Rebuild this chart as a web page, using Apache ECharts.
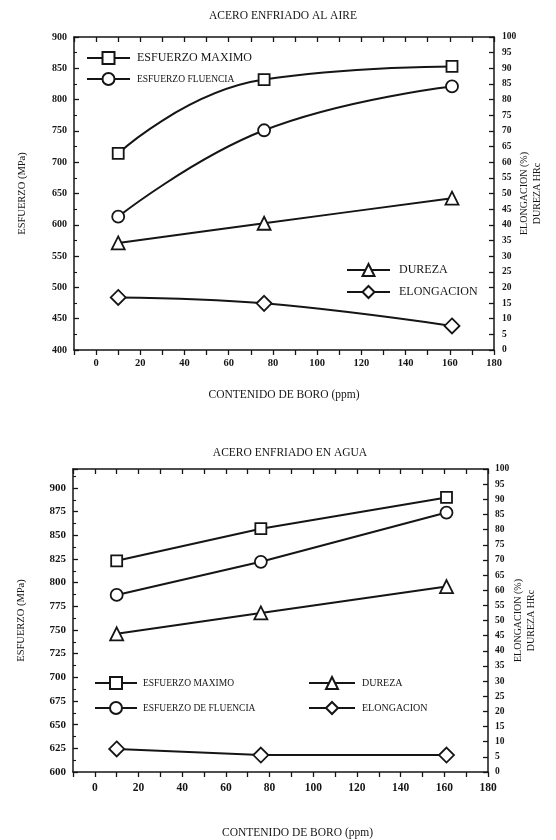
<!DOCTYPE html>
<html>
<head>
<meta charset="utf-8">
<script src="https://cdn.jsdelivr.net/npm/echarts@6/dist/echarts.min.js"></script>
<style>
html,body{margin:0;padding:0;background:#fff;}
#c{width:556px;height:840px;}
</style>
</head>
<body>
<div id="c"></div>
<script>
// ---- data ----
const xBoro = [10, 76, 161];
const xTickLabels = [0, 20, 40, 60, 80, 100, 120, 140, 160, 180];

const aireMax = [714, 832, 853];
const aireFlu = [613, 751, 821];
const aireDur = [34.2, 40.5, 48.5];
const aireElo = [16.8, 14.9, 7.7];

const aguaMax = [823, 857, 890];
const aguaFlu = [787, 822, 874];
const aguaDur = [45.6, 52.5, 61.2];
const aguaElo = [7.6, 5.6, 5.6];

const FONT = '"Liberation Serif", "DejaVu Serif", serif';
const INK = '#151515';

function pts(arr){ return xBoro.map((x,i)=>[x, arr[i]]); }

function xAxisPair(grid){
  const base = {
    gridIndex: grid, type:'value', min:-10, max:180, interval:10,
    splitLine:{show:false},
    axisLine:{show:true, onZero:false, lineStyle:{color:INK, width:1.5}},
  };
  return [
    Object.assign({}, base, {
      position:'bottom',
      axisTick:{show:true, inside:false, length:5, lineStyle:{color:INK, width:1.3}},
      axisLabel:{show:true, margin: grid===0?8:10, color:INK, fontFamily:FONT, fontWeight:'bold',
        fontSize: grid===0?10.5:11.5,
        formatter: v => xTickLabels.includes(v) ? String(v) : ''},
      name:'CONTENIDO DE BORO (ppm)', nameLocation:'middle',
      nameGap: grid===0?39:55,
      nameTextStyle:{color:INK, fontFamily:FONT, fontSize:11.5,
        padding: grid===0?[0,0,0,0]:[0,0,0,34]}
    }),
    Object.assign({}, base, {
      position:'top',
      axisTick:{show:true, inside:true, length:5, lineStyle:{color:INK, width:1.3}},
      axisLabel:{show:false}
    })
  ];
}

function leftY(grid, min, max, interval){
  return {
    gridIndex:grid, type:'value', position:'left', min:min, max:max, interval:interval,
    splitLine:{show:false},
    axisLine:{show:true, onZero:false, lineStyle:{color:INK, width:1.5}},
    axisTick:{show:true, inside:true, length:5, lineStyle:{color:INK, width:1.3}},
    minorTick:{show:true, splitNumber:2, length:3, lineStyle:{color:INK, width:1.1}},
    axisLabel:{color:INK, fontFamily:FONT, fontWeight:'bold', fontSize:grid===0?10:11, margin:7,
      formatter: v => ((v - min) % interval === 0) ? String(v) : ''},
    name:'ESFUERZO (MPa)', nameLocation:'middle', nameRotate:90, nameGap:46,
    nameTextStyle:{color:INK, fontFamily:FONT, fontSize:10.5}
  };
}

function rightY(grid){
  return {
    gridIndex:grid, type:'value', position:'right', min:0, max:100, interval:5,
    splitLine:{show:false},
    axisLine:{show:true, onZero:false, lineStyle:{color:INK, width:1.5}},
    axisTick:{show:true, inside:true, length:5, lineStyle:{color:INK, width:1.3}},
    axisLabel:{color:INK, fontFamily:FONT, fontWeight:'bold', fontSize:9.5, margin:grid===0?8:7},
    name:'ELONGACION (%)\nDUREZA HRc', nameLocation:'middle', nameRotate:90, nameGap:24,
    nameMoveOverlap:false,
    nameTextStyle:{color:INK, fontFamily:FONT, fontSize:10, lineHeight:13}
  };
}

function line(name, data, xi, yi, symbol, size, smooth){
  return {
    type:'line', name:name, data:data, xAxisIndex:xi, yAxisIndex:yi,
    symbol:symbol, symbolSize:size, showSymbol:true, smooth:smooth,
    lineStyle:{color:INK, width:2},
    itemStyle:{color:'#fff', borderColor:INK, borderWidth:1.8},
    emphasis:{disabled:true}, animation:false, z:3
  };
}

const xa0 = xAxisPair(0), xa1 = xAxisPair(1);

const option = {
  backgroundColor:'#fff',
  animation:false,
  title:[
    {text:'ACERO ENFRIADO AL AIRE', left:278, top:5, textAlign:'center',
     textStyle:{color:INK, fontFamily:FONT, fontSize:11.5, fontWeight:'normal'}},
    {text:'ACERO ENFRIADO EN AGUA', left:285, top:442, textAlign:'center',
     textStyle:{color:INK, fontFamily:FONT, fontSize:11.5, fontWeight:'normal'}}
  ],
  grid:[
    {left:74, top:37, width:420, height:313},
    {left:73, top:469, width:415, height:304}
  ],
  xAxis:[xa0[0], xa0[1], xa1[0], xa1[1]],
  yAxis:[leftY(0, 400, 900, 50), rightY(0), leftY(1, 600, 920, 25), rightY(1)],
  legend:[
    {orient:'vertical', left:81, top:46, itemWidth:43, itemHeight:15, itemGap:7,
     selectedMode:false, textStyle:{color:INK, fontFamily:FONT, padding:[0,0,0,2]},
     data:[{name:'ESFUERZO MAXIMO', textStyle:{fontSize:12}},
           {name:'ESFUERZO FLUENCIA', textStyle:{fontSize:9.5}}]},
    {orient:'vertical', left:341, top:258, itemWidth:43, itemHeight:15, itemGap:8,
     selectedMode:false, textStyle:{color:INK, fontFamily:FONT, fontSize:12, padding:[0,0,0,4]},
     data:['DUREZA','ELONGACION']},
    {orient:'vertical', left:89, top:671, itemWidth:42, itemHeight:15, itemGap:11,
     selectedMode:false, textStyle:{color:INK, fontFamily:FONT, fontSize:9.5, padding:[0,0,0,1]},
     data:['ESFUERZO MAXIMO ','ESFUERZO DE FLUENCIA']},
    {orient:'vertical', left:303, top:671, itemWidth:46, itemHeight:15, itemGap:11,
     selectedMode:false, textStyle:{color:INK, fontFamily:FONT, fontSize:10, padding:[0,0,0,2]},
     data:['DUREZA ','ELONGACION ']}
  ],
  series:[
    line('ESFUERZO MAXIMO', pts(aireMax), 0, 0, 'rect', 11, 0.5),
    line('ESFUERZO FLUENCIA', pts(aireFlu), 0, 0, 'circle', 12, 0.45),
    line('DUREZA', pts(aireDur), 0, 1, 'triangle', 13, 0.3),
    line('ELONGACION', pts(aireElo), 0, 1, 'diamond', 15, 0.4),
    line('ESFUERZO MAXIMO ', pts(aguaMax), 2, 2, 'rect', 11, false),
    line('ESFUERZO DE FLUENCIA', pts(aguaFlu), 2, 2, 'circle', 12, false),
    line('DUREZA ', pts(aguaDur), 2, 3, 'triangle', 13, false),
    line('ELONGACION ', pts(aguaElo), 2, 3, 'diamond', 15, false)
  ]
};

const chart = echarts.init(document.getElementById('c'), null, {renderer:'canvas'});
chart.setOption(option);
</script>
</body>
</html>
